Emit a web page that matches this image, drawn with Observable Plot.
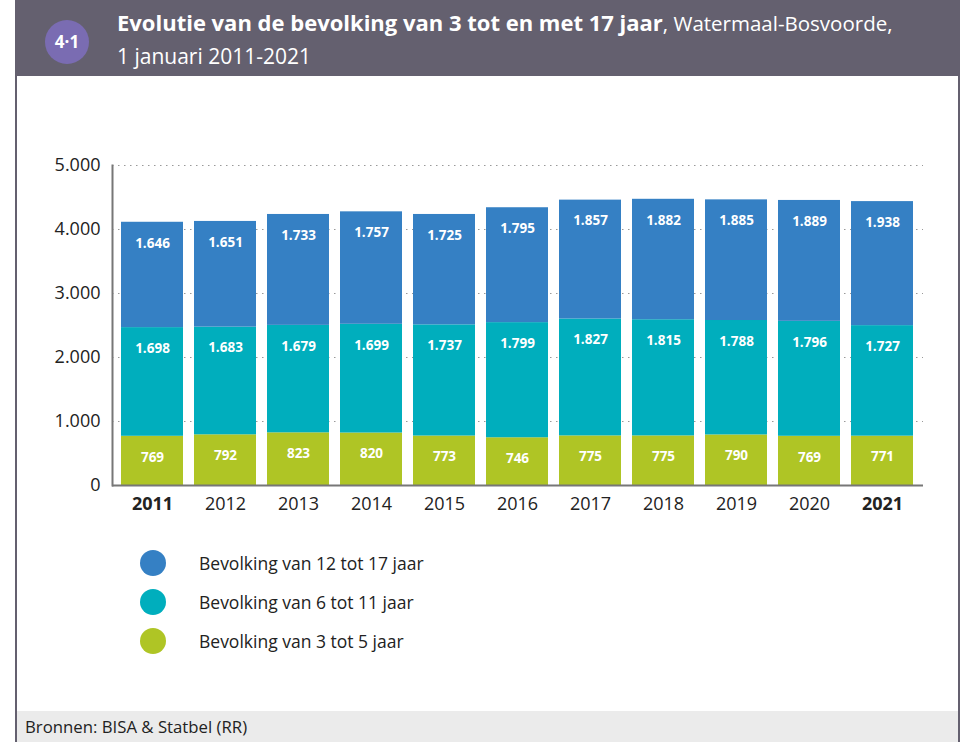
<!DOCTYPE html>
<html><head><meta charset="utf-8">
<script src="https://cdn.jsdelivr.net/npm/d3@7"></script>
<script src="https://cdn.jsdelivr.net/npm/@observablehq/plot@0.6"></script>
<style>
body{margin:0;width:965px;height:742px;position:relative;overflow:hidden;background:#fff;font-family:"Open Sans",sans-serif;color:#222;}
#header{position:absolute;left:15px;top:0;width:945px;height:76px;background:#64606f;}
#badge{position:absolute;left:30px;top:20px;width:44px;height:44px;border-radius:50%;background:#7a6cb2;color:#fff;font-weight:700;font-size:17px;line-height:44px;text-align:center;}
#title{position:absolute;left:102px;top:6px;color:#fff;font-size:20.5px;line-height:33px;white-space:nowrap;}
#title b{font-weight:700;font-size:22px;}
#title .l2{font-size:21px;}
#frameL{position:absolute;left:15px;top:76px;width:2px;height:666px;background:#64606f;}
#frameR{position:absolute;left:958px;top:76px;width:2px;height:666px;background:#64606f;}
#chart{position:absolute;left:0;top:150px;}
#legend{position:absolute;left:140px;top:543px;}
.row{display:flex;align-items:center;height:39px;font-size:17.5px;}
.dot{width:26px;height:26px;border-radius:50%;margin-right:33px;}
#footer{position:absolute;left:17px;top:711px;width:941px;height:31px;background:#ebebeb;font-size:16.75px;line-height:31px;padding-left:8px;box-sizing:border-box;}
</style></head><body>
<div id="header"><div id="badge">4·1</div><div id="title"><b>Evolutie van de bevolking van 3 tot en met 17 jaar</b>, Watermaal-Bosvoorde,<br><span class="l2">1 januari 2011-2021</span></div></div>
<div id="frameL"></div><div id="frameR"></div>
<div id="chart"></div>
<div id="legend"></div>
<div id="footer">Bronnen: BISA &amp; Statbel (RR)</div>
<script>
const years = ["2011","2012","2013","2014","2015","2016","2017","2018","2019","2020","2021"];
const boldYears = ["2011","2021"];
const groups = ["Bevolking van 3 tot 5 jaar","Bevolking van 6 tot 11 jaar","Bevolking van 12 tot 17 jaar"];
const colors = ["#afc525","#00aebd","#3580c4"];
const age3to5 = [769,792,823,820,773,746,775,775,790,769,771];
const age6to11 = [1698,1683,1679,1699,1737,1799,1827,1815,1788,1796,1727];
const age12to17 = [1646,1651,1733,1757,1725,1795,1857,1882,1885,1889,1938];
const yTicks = [0,1000,2000,3000,4000,5000];

const series = [age3to5, age6to11, age12to17];
const data = [];
series.forEach((vals, gi) => vals.forEach((v, i) => data.push({year: years[i], group: groups[gi], value: v})));

const loc = d3.formatLocale({decimal: ",", thousands: ".", grouping: [3], currency: ["€",""]});
const fmt = loc.format(",d");

const chart = Plot.plot({
  width: 965, height: 370,
  marginLeft: 112, marginRight: 42, marginTop: 15, marginBottom: 35,
  style: {fontFamily: "Open Sans", fontSize: "18px", color: "#222", background: "transparent", overflow: "visible"},
  x: {domain: years, paddingInner: 0.146, paddingOuter: 0.07, label: null},
  y: {domain: [0, 5000], label: null},
  color: {domain: groups, range: colors},
  marks: [
    Plot.ruleY(yTicks.filter(d => d > 0), {stroke: "#999", strokeDasharray: "1.5,4.5", strokeWidth: 1.2}),
    Plot.barY(data, Plot.stackY({x: "year", y: "value", fill: "group", order: groups})),
    Plot.text(data, Plot.stackY2({x: "year", y: "value", z: "group", order: groups, text: d => fmt(d.value), fill: "#fff", fontWeight: 700, fontSize: 13.5, dy: 21})),
    Plot.ruleY([0], {stroke: "#777", strokeWidth: 2}),
    Plot.axisY(yTicks, {tickSize: 0, tickPadding: 12, tickFormat: d => fmt(d), fontSize: 18, label: null}),
    Plot.frame({anchor: "left", stroke: "#777", strokeWidth: 2}),
    Plot.axisX(years.filter(y => !boldYears.includes(y)), {tickSize: 0, tickPadding: 12, fontSize: 18, label: null}),
    Plot.axisX(boldYears, {tickSize: 0, tickPadding: 12, fontSize: 18, fontWeight: 700, label: null})
  ]
});
document.getElementById("chart").appendChild(chart);

const legend = document.getElementById("legend");
[...groups].reverse().forEach((g, i) => {
  const row = document.createElement("div");
  row.className = "row";
  const dot = document.createElement("div");
  dot.className = "dot";
  dot.style.background = colors[groups.length - 1 - i];
  const lab = document.createElement("span");
  lab.textContent = g;
  row.appendChild(dot); row.appendChild(lab);
  legend.appendChild(row);
});
</script>
</body></html>
